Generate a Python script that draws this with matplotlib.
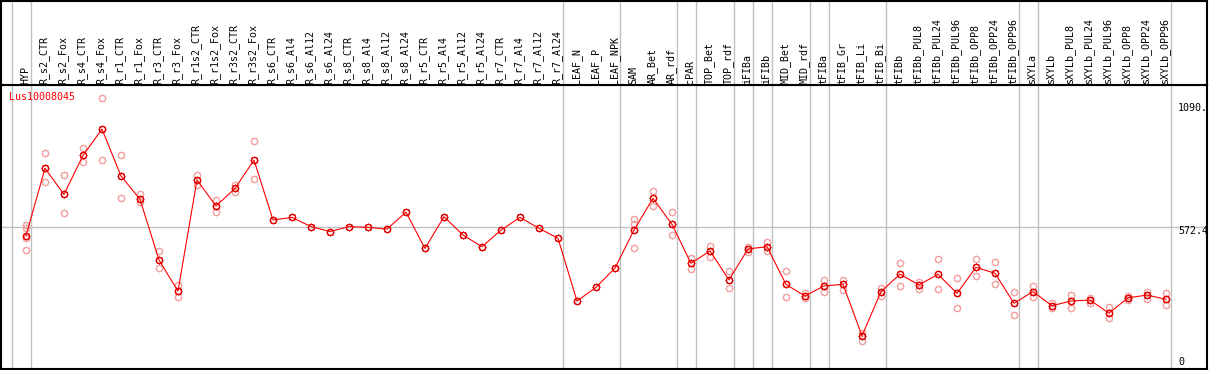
import matplotlib
matplotlib.use("Agg")
import matplotlib.pyplot as plt
import numpy as np
from matplotlib.path import Path

plt.rcParams["font.family"] = "DejaVu Sans Mono"

# ── Data ──
gene = "Lus10008045"
categories = [
    "HYP", "R_s2_CTR", "R_s2_Fox", "R_s4_CTR", "R_s4_Fox", "R_r1_CTR", "R_r1_Fox",
    "R_r3_CTR", "R_r3_Fox", "R_r1s2_CTR", "R_r1s2_Fox", "R_r3s2_CTR", "R_r3s2_Fox",
    "R_s6_CTR", "R_s6_Al4", "R_s6_Al12", "R_s6_Al24", "R_s8_CTR", "R_s8_Al4",
    "R_s8_Al12", "R_s8_Al24", "R_r5_CTR", "R_r5_Al4", "R_r5_Al12", "R_r5_Al24",
    "R_r7_CTR", "R_r7_Al4", "R_r7_Al12", "R_r7_Al24", "LEAF_N", "LEAF_P", "LEAF_NPK",
    "SAM", "AR_Bet", "AR_rdf", "cPAR", "TOP_Bet", "TOP_rdf", "iFIBa", "iFIBb",
    "MID_Bet", "MID_rdf", "tFIBa", "tFIB_Gr", "tFIB_Li", "tFIB_Bi", "tFIBb",
    "tFIBb_PUL8", "tFIBb_PUL24", "tFIBb_PUL96", "tFIBb_OPP8", "tFIBb_OPP24",
    "tFIBb_OPP96", "sXYLa", "sXYLb", "sXYLb_PUL8", "sXYLb_PUL24", "sXYLb_PUL96",
    "sXYLb_OPP8", "sXYLb_OPP24", "sXYLb_OPP96",
]
group_sizes = [1, 28, 3, 3, 1, 2, 1, 1, 2, 1, 3, 7, 1, 7]

means = [
    537, 809, 704, 861, 967, 778, 684, 439, 314, 762, 657, 728, 842,
    601, 611, 574, 554, 574, 571, 564, 632, 486, 614, 540, 493, 560, 611, 567, 527,
    274, 329, 407,
    560, 688, 583, 426, 476, 359, 484, 493, 341, 294, 335, 341, 134, 312,
    382, 339, 382, 305, 410, 386, 265, 312, 255, 274, 278, 225, 287, 298, 281,
]
replicates = [
    [580, 567, 529, 480], [869, 753], [782, 628], [890, 836], [1091, 842],
    [863, 688], [704, 672], [476, 406], [339, 289], [782, 742], [681, 634],
    [742, 715], [919, 765],
    [], [], [], [], [], [], [], [], [], [], [], [], [], [], [], [],
    [], [], [],
    [605, 583, 486], [717, 657], [632, 540], [449, 402], [497, 453], [395, 325],
    [493, 473], [511, 476], [395, 289], [305, 285], [359, 312], [359, 318],
    [144, 113], [325, 294], [426, 335], [352, 321], [442, 321], [366, 245],
    [442, 376], [430, 341], [309, 218], [336, 291], [265, 247], [298, 247],
    [287, 265], [251, 204], [295, 278], [312, 281], [305, 258],
]
y_max = 1144.8
y_labels = ["1090.", "572.4", "0"]
y_label_vals = [1090, 572.4, 0]

# ── Style ──
W, H = 1209, 370
X0, DX = 26, 19          # pixel of first category, spacing
RED = "#ff0000"
DARK = "#e00000"
PINK = "#f29c9c"
GRID = "#c0c0c0"
FS = 7.2


def gear_marker():
    parts = [Path.unit_circle()]
    for a in np.arange(8) * np.pi / 4:
        c, s = np.cos(a), np.sin(a)
        parts.append(Path([[c, s], [1.35 * c, 1.35 * s]], [Path.MOVETO, Path.LINETO]))
    return Path.make_compound_path(*parts)


MARK = gear_marker()

fig = plt.figure(figsize=(W / 100, H / 100), dpi=100)
fig.patch.set_facecolor("white")


def px_axes(x0, y0, x1, y1):
    return fig.add_axes([x0 / W, 1 - y1 / H, (x1 - x0) / W, (y1 - y0) / H])


ax = px_axes(1, 85, 1207, 369)
lab = px_axes(1, 1, 1207, 85)
xlim = ((1 - X0) / DX, (1207 - X0) / DX)

for a in (ax, lab):
    a.set_xlim(xlim)
    a.set_xticks([])
    a.set_yticks([])
    for sp in a.spines.values():
        sp.set_color("black")
        sp.set_linewidth(1.5)

ax.set_ylim(0, y_max)
lab.set_ylim(85, 0)

# group separators
bounds = np.concatenate([[0], np.cumsum(group_sizes)]) - 1 + 0.25
for b in bounds:
    ax.axvline(b, color=GRID, lw=1, zorder=1)
    lab.axvline(b, color=GRID, lw=1, zorder=1)
ax.axhline(y_max / 2, color=GRID, lw=1, zorder=1)

x = np.arange(len(categories))

# replicate points
rx = [i for i, r in enumerate(replicates) for _ in r]
ry = [v for r in replicates for v in r]
ax.plot(rx, ry, ls="none", marker=MARK, ms=5.8, mfc="none", mec=PINK, mew=0.8, zorder=2)

# mean line + points
ax.plot(x, means, color=RED, lw=0.8, zorder=3)
ax.plot(x, means, ls="none", marker=MARK, ms=5.8, mfc="none", mec=DARK, mew=0.9, zorder=4)

# category labels
for i, name in enumerate(categories):
    lab.text(i - 0.05, 83.5, name, rotation=90, ha="center", va="bottom",
             fontsize=FS, color="black")

# gene name
ax.text(8 / 1206, 0.958, gene, transform=ax.transAxes, color=RED,
        fontsize=FS, ha="left", va="center")

# value labels on the right
offsets = [-9, -4, 7]
for txt, v, off in zip(y_labels, y_label_vals, offsets):
    ax.annotate(txt, xy=((1178 - X0) / DX, v), xytext=(0, off),
                textcoords="offset pixels", fontsize=FS, ha="left", va="center",
                color="black", annotation_clip=False)

fig.savefig("out.png", dpi=100)
